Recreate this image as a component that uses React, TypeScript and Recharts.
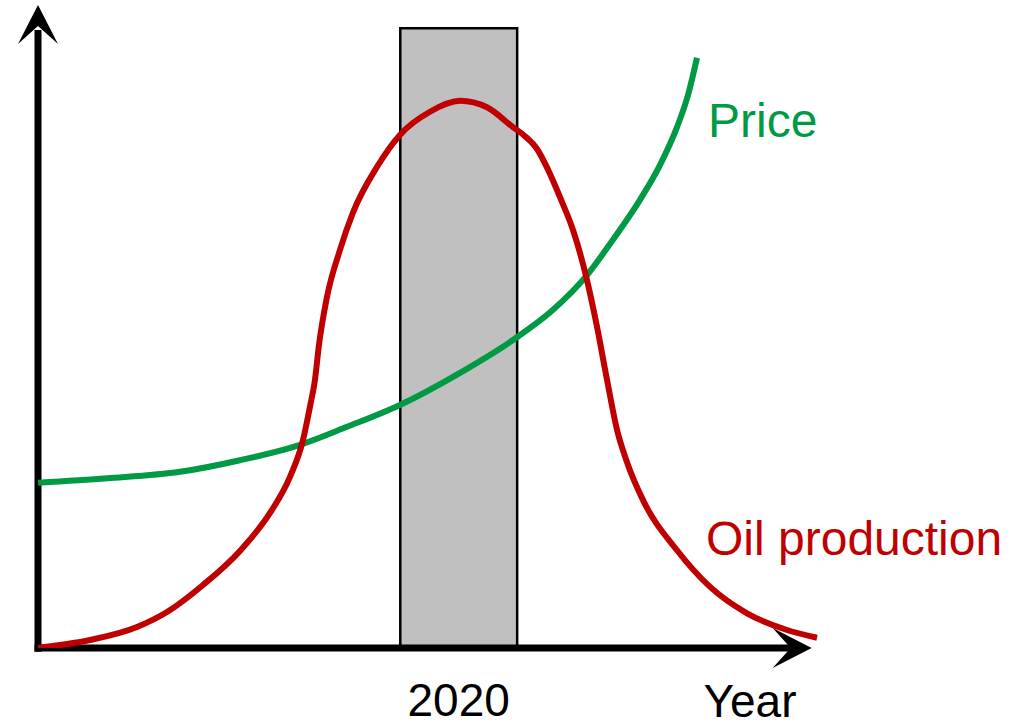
import React from "react";
import {
  ComposedChart,
  Line,
  XAxis,
  YAxis,
  ReferenceArea,
  ReferenceLine,
  ReferenceDot,
} from "recharts";

// Oil production (hubbert-like curve)
const oilYears = [
  1984.0, 1988.45, 1992.47, 1995.04, 1998.12, 2001.28, 2003.85, 2005.56, 2006.67,
  2007.27, 2007.7, 2008.04, 2008.73, 2009.84, 2010.95, 2013.0, 2014.97, 2017.54,
  2020.11, 2022.42, 2024.64, 2025.67, 2026.7, 2027.64, 2028.67, 2029.78, 2030.98,
  2031.84, 2032.69, 2033.55, 2034.4, 2035.77, 2038.68, 2041.51, 2044.67, 2048.09,
  2050.66,
];
const oilValues = [
  0.0, 1.24, 3.27, 5.6, 9.8, 15.1, 21.0, 26.6, 32.3, 37.5, 41.7, 47.1, 54.6, 61.9,
  67.7, 74.8, 79.8, 83.4, 85.1, 84.1, 81.0, 79.6, 77.6, 74.4, 70.1, 65.0, 57.2, 49.9,
  41.7, 33.9, 28.9, 23.0, 15.2, 9.5, 5.4, 2.8, 1.6,
];

// Price
const priceYears = [
  1984.0, 1989.9, 1996.15, 2001.28, 2006.42, 2010.44, 2014.97, 2020.11, 2024.64,
  2028.07, 2030.98, 2033.2, 2035.51, 2037.22, 2038.68, 2039.62, 2040.39,
];
const priceValues = [
  25.7, 26.4, 27.4, 29.2, 31.6, 34.4, 37.8, 42.8, 47.9, 52.6, 58.0, 63.5, 69.7, 75.1,
  81.0, 86.0, 91.8,
];

const tickYears = [2020];
const barStart = 2015;
const barEnd = 2025;
const barTop = 96.4;

const xMin = 1984;
const xMax = 2051;
const xArrowTip = 2050.2;
const xShaftEnd = 2048.8;
const yArrowTip = 100;
const yShaftEnd = 96.1;

const oilData = oilYears.map((year, i) => ({ year, oil: oilValues[i] }));
const priceData = priceYears.map((year, i) => ({ year, price: priceValues[i] }));

const FONT = "'Liberation Sans', Arial, Helvetica, sans-serif";
const RED = "#c00000";
const GREEN = "#009944";

const UpArrow = (props: any) => {
  const { cx, cy } = props;
  const pts = [
    [cx, cy],
    [cx + 20, cy + 39],
    [cx, cy + 21],
    [cx - 20, cy + 39],
  ]
    .map((p) => p.join(","))
    .join(" ");
  return <polygon points={pts} fill="#000" />;
};

const RightArrow = (props: any) => {
  const { cx, cy } = props;
  const pts = [
    [cx, cy],
    [cx - 39, cy + 20],
    [cx - 21, cy],
    [cx - 39, cy - 20],
  ]
    .map((p) => p.join(","))
    .join(" ");
  return <polygon points={pts} fill="#000" />;
};

const YearLabel = (props: any) => {
  const vb = props.viewBox || {};
  return (
    <text
      x={(vb.x ?? 38) + 712}
      y={(vb.y ?? 648) + 68.5}
      textAnchor="middle"
      fontSize={46}
      fontFamily={FONT}
      fill="#000"
    >
      Year
    </text>
  );
};

export default function App() {
  return (
    <div style={{ position: "absolute", left: 0, top: 0, width: 1018, height: 722, background: "#fff" }}>
      <ComposedChart
        width={1018}
        height={722}
        margin={{ top: 5, right: 197, bottom: 0, left: 38 }}
      >
        <XAxis
          type="number"
          dataKey="year"
          domain={[xMin, xMax]}
          ticks={tickYears}
          allowDataOverflow
          height={74}
          axisLine={false}
          tickLine={false}
          tickSize={0}
          tickMargin={35}
          tick={{ fontSize: 46, fill: "#000", fontFamily: FONT }}
          label={<YearLabel />}
        />
        <YAxis type="number" domain={[0, 100]} hide allowDataOverflow />
        <ReferenceArea
          x1={barStart}
          x2={barEnd}
          y1={0}
          y2={barTop}
          fill="#c0c0c0"
          fillOpacity={1}
          stroke="#000"
          strokeWidth={2.5}
          ifOverflow="visible"
        />
        <ReferenceLine
          segment={[
            { x: xMin, y: -0.6 },
            { x: xMin, y: yShaftEnd },
          ]}
          stroke="#000"
          strokeWidth={7}
          ifOverflow="visible"
        />
        <ReferenceLine
          segment={[
            { x: xMin - 0.3, y: 0 },
            { x: xShaftEnd, y: 0 },
          ]}
          stroke="#000"
          strokeWidth={7}
          ifOverflow="visible"
        />
        <ReferenceDot x={xMin} y={yArrowTip} r={0} shape={UpArrow} ifOverflow="visible" />
        <ReferenceDot x={xArrowTip} y={0} r={0} shape={RightArrow} ifOverflow="visible" />
        <Line
          data={priceData}
          dataKey="price"
          type="monotone"
          stroke={GREEN}
          strokeWidth={6}
          dot={false}
          activeDot={false}
          isAnimationActive={false}
        />
        <Line
          data={oilData}
          dataKey="oil"
          type="monotone"
          stroke={RED}
          strokeWidth={6}
          dot={false}
          activeDot={false}
          isAnimationActive={false}
        />
        <text x={708} y={137} fontSize={48} fontFamily={FONT} fill={GREEN}>
          Price
        </text>
        <text x={706} y={555} fontSize={48} fontFamily={FONT} fill={RED}>
          Oil production
        </text>
      </ComposedChart>
    </div>
  );
}
